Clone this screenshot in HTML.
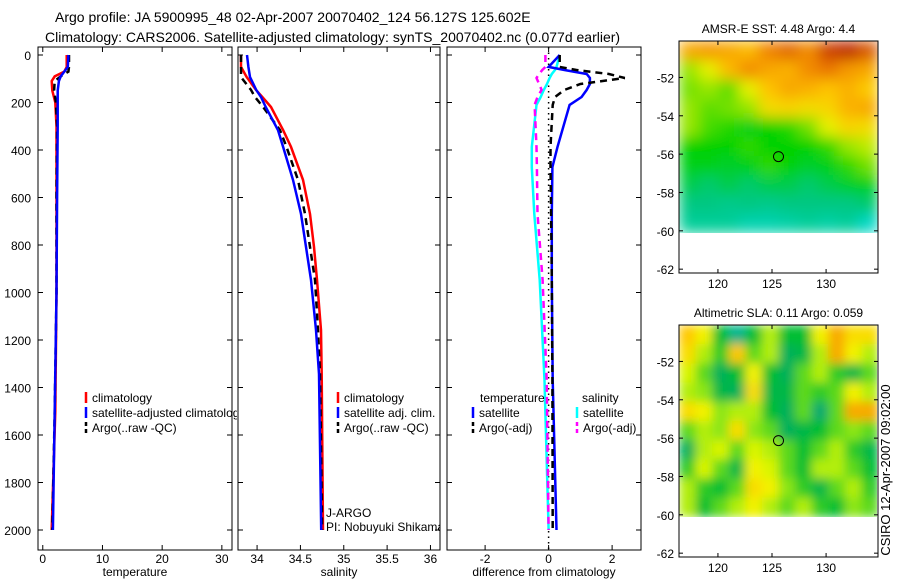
<!DOCTYPE html>
<html><head><meta charset="utf-8"><style>
body{margin:0;background:#fff}
svg{display:block;font-family:"Liberation Sans",sans-serif}
</style></head><body>
<svg id="c" width="900" height="580" viewBox="0 0 900 580">
<defs>
<filter id="bl" x="0" y="0" width="1" height="1"><feGaussianBlur stdDeviation="7" edgeMode="duplicate"/></filter>
<filter id="bl2" x="0" y="0" width="1" height="1"><feGaussianBlur stdDeviation="5" edgeMode="duplicate"/></filter>
<clipPath id="cp1"><rect x="0" y="0" width="237" height="580"/></clipPath>
<clipPath id="cp2"><rect x="238" y="0" width="202" height="580"/></clipPath>
<clipPath id="cm1"><rect x="679" y="41" width="199" height="192"/></clipPath>
<clipPath id="cm2"><rect x="679" y="325" width="198" height="192"/></clipPath>
</defs>
<text x="55" y="22" font-size="14">Argo profile: JA 5900995_48 02-Apr-2007 20070402_124 56.127S 125.602E</text>
<text x="45" y="42" font-size="14">Climatology: CARS2006. Satellite-adjusted climatology: synTS_20070402.nc (0.077d earlier)</text>
<g id="g"></g>
<text transform="translate(890,470) rotate(-90)" font-size="13" text-anchor="middle">CSIRO 12-Apr-2007 09:02:00</text>
</svg>
<script>
// Profile data (depth in m)
const tDepth=[0,50,70,90,110,150,200,300,600,1000,1500,2000];
const tClim=[4.0,4.0,3.6,2.0,1.5,1.6,2.1,2.3,2.3,2.3,2.1,1.5];
const tSat=[4.3,4.2,3.6,3.0,2.7,2.5,2.5,2.5,2.4,2.3,2.0,1.7];
const tArgo=[4.4,4.4,4.3,3.0,2.0,1.9,2.2,2.4,2.3,2.3,2.0,1.6];
const sDepth=[0,50,93,147,177,219,316,387,526,669,808,947,1158,1343,2000];
const sClim=[33.815,33.815,33.88,33.988,34.06,34.161,34.3,34.391,34.53,34.61,34.657,34.691,34.737,34.745,34.76];
const sSat=[33.884,33.9,33.918,33.99,34.045,34.1,34.241,34.3,34.414,34.507,34.564,34.622,34.68,34.714,34.74];
const sArgo=[33.815,33.815,33.815,33.93,33.976,34.07,34.264,34.34,34.472,34.553,34.61,34.668,34.703,34.726,34.75];
const dDepth=[0,50,63,80,97,122,147,177,210,387,472,669,947,1368,2000];
const dTempSat=[0.35,0.0,0.5,1.2,1.3,1.3,1.2,1.04,0.66,0.28,0.12,0.1,0.1,0.13,0.25];
const dTempArgo=[0.35,0.35,0.88,1.9,2.4,1.0,0.5,0.2,0.13,0.06,0.06,0.08,0.1,0.12,0.13];
const dSalSat=[0.35,0.25,0.2,0.1,0.03,-0.05,-0.15,-0.25,-0.38,-0.53,-0.53,-0.45,-0.28,-0.13,0.0];
const dSalArgo=[-0.1,-0.1,-0.2,-0.3,-0.38,-0.3,-0.22,-0.35,-0.44,-0.38,-0.37,-0.35,-0.19,-0.06,0.0];
const depthTicks=[0,200,400,600,800,1000,1200,1400,1600,1800,2000];
const tTicks=[0,10,20,30];
const sTicks=[34,34.5,35,35.5,36];
const sTickLabels=["34","34.5","35","35.5","36"];
const dTicks=[-2,0,2];
// Satellite maps
const lonTicks=[120,125,130];
const latTicks=[-52,-54,-56,-58,-60,-62];
const sstGrid=[
[.72,.75,.72,.68,.8,.85,.78,.92,.97,.88],
[.45,.55,.68,.78,.72,.7,.78,.82,.75,.72],
[.42,.45,.4,.55,.66,.72,.7,.66,.7,.64],
[.45,.4,.42,.45,.6,.62,.6,.62,.7,.72],
[.45,.38,.35,.3,.32,.35,.42,.55,.62,.6],
[.32,.32,.32,.36,.32,.32,.32,.36,.45,.5],
[.3,.3,.28,.3,.36,.32,.28,.3,.36,.42],
[.25,.22,.25,.22,.25,.25,.22,.25,.28,.3],
[.2,.2,.18,.2,.18,.2,.2,.2,.2,.22],
[.15,.15,.15,.1,.1,.12,.15,.12,.15,.05]];
const slaGrid=[
[.8,.7,.4,.2,.4,.6,.4,.4,.7,.85,.75,.75],
[.75,.6,.45,.8,.5,.6,.3,.35,.6,.85,.7,.6],
[.65,.5,.3,.4,.7,.4,.3,.5,.6,.45,.35,.5],
[.6,.55,.35,.3,.75,.35,.35,.5,.45,.5,.7,.6],
[.75,.7,.55,.6,.6,.4,.3,.5,.25,.5,.85,.85],
[.5,.6,.55,.75,.55,.5,.3,.35,.4,.5,.55,.5],
[.3,.6,.65,.5,.65,.6,.5,.4,.5,.6,.45,.35],
[.45,.65,.5,.35,.7,.65,.5,.4,.6,.6,.5,.4],
[.6,.45,.4,.5,.75,.7,.55,.45,.35,.5,.6,.45],
[.6,.4,.5,.6,.7,.6,.5,.6,.45,.4,.55,.5]];
const floatLon=125.6, floatLat=-56.13;

const NS="http://www.w3.org/2000/svg";
const G=document.getElementById('g');
function mk(tag,at,par){const e=document.createElementNS(NS,tag);for(const k in at)e.setAttribute(k,at[k]);(par||G).appendChild(e);return e;}
const yTop=47,yBot=550;
const dy=d=>55+d*0.2375;
function panel(name,x0,x1,vmin,vmax,ticks,labels,xlabel,showY){
  const sx=v=>x0+(v-vmin)/(vmax-vmin)*(x1-x0);
  const f=mk('rect',{x:x0,y:yTop,width:x1-x0,height:yBot-yTop,fill:'none',stroke:'#000','stroke-width':1});
  
  
  depthTicks.forEach(d=>{
    mk('line',{x1:x0,x2:x0+5,y1:dy(d),y2:dy(d),stroke:'#000'});
    mk('line',{x1:x1,x2:x1-5,y1:dy(d),y2:dy(d),stroke:'#000'});
    if(showY){const t=mk('text',{x:x0-7,y:dy(d)+5,'font-size':12,'text-anchor':'end'});t.textContent=d;
      
      }
  });
  ticks.forEach((v,i)=>{
    mk('line',{x1:sx(v),x2:sx(v),y1:yTop,y2:yTop+5,stroke:'#000'});
    mk('line',{x1:sx(v),x2:sx(v),y1:yBot,y2:yBot-5,stroke:'#000'});
    const t=mk('text',{x:sx(v),y:563,'font-size':12,'text-anchor':'middle'});t.textContent=labels[i];
    
    
  });
  const xl=mk('text',{x:(x0+x1)/2,y:576,'font-size':12,'text-anchor':'middle'});xl.textContent=xlabel;
  
  
  return sx;
}
function line(sx,depths,vals,color,dash,name){
  const p=mk('polyline',{points:depths.map((d,i)=>sx(vals[i]).toFixed(1)+','+dy(d).toFixed(1)).join(' '),fill:'none',stroke:color,'stroke-width':2.5,'stroke-dasharray':dash||'none'});
  
  
}
function leg(x,y,color,dash,text,clip){
  mk('line',{x1:x,x2:x,y1:y-10,y2:y+1,stroke:color,'stroke-width':2.5,'stroke-dasharray':dash||'none'});
  const t=mk('text',{x:x+6,y:y,'font-size':12});t.textContent=text;
  if(clip)t.setAttribute('clip-path',clip);
  
  
}
// Panel 1
const sx1=panel('temperature-panel',38,232,-0.8,31.7,tTicks,tTicks.map(String),'temperature',true);
line(sx1,tDepth,tClim,'#f00','', 'temp-climatology-line');
line(sx1,tDepth,tArgo,'#000','7,5','temp-argo-line');
line(sx1,tDepth,tSat,'#00f','', 'temp-satellite-line');
leg(86,402,'#f00','','climatology');leg(86,417,'#00f','','satellite-adjusted climatology','url(#cp1)');leg(86,432,'#000','4,3','Argo(..raw -QC)');
// Panel 2
const sx2=panel('salinity-panel',238,440,33.78,36.11,sTicks,sTickLabels,'salinity',false);
line(sx2,sDepth,sClim,'#f00','', 'sal-climatology-line');
line(sx2,sDepth,sArgo,'#000','7,5','sal-argo-line');
line(sx2,sDepth,sSat,'#00f','', 'sal-satellite-line');
leg(338,402,'#f00','','climatology');leg(338,417,'#00f','','satellite adj. clim.');leg(338,432,'#000','4,3','Argo(..raw -QC)');
let t=mk('text',{x:326,y:517,'font-size':12});t.textContent='J-ARGO';


t=mk('text',{x:326,y:531,'font-size':12,'clip-path':'url(#cp2)'});t.textContent='PI: Nobuyuki Shikama';


// Panel 3
const sx3=panel('difference-panel',447,641,-3.2,2.91,dTicks,dTicks.map(String),'difference from climatology',false);
mk('line',{x1:sx3(0),x2:sx3(0),y1:yTop,y2:yBot,stroke:'#000','stroke-width':1.5,'stroke-dasharray':'1.5,4'});
line(sx3,dDepth,dSalSat,'#0ff','', 'sal-satellite-diff-line');
line(sx3,dDepth,dSalArgo,'#f0f','7,5','sal-argo-diff-line');
line(sx3,dDepth,dTempSat,'#00f','', 'temp-satellite-diff-line');
line(sx3,dDepth,dTempArgo,'#000','7,5','temp-argo-diff-line');
t=mk('text',{x:480,y:402,'font-size':12});t.textContent='temperature';


t=mk('text',{x:582,y:402,'font-size':12});t.textContent='salinity';


leg(473,417,'#00f','','satellite');leg(473,432,'#000','4,3','Argo(-adj)');
leg(577,417,'#0ff','','satellite');leg(577,432,'#f0f','4,3','Argo(-adj)');
// Maps
function lerp(a,b,t){return a.map((v,i)=>Math.round(v+(b[i]-v)*t));}
function cmap(stops,v){for(let i=1;i<stops.length;i++){if(v<=stops[i][0]){const a=stops[i-1],b=stops[i];return 'rgb('+lerp(a[1],b[1],(v-a[0])/(b[0]-a[0])).join(',')+')';}}return 'rgb('+stops[stops.length-1][1].join(',')+')';}
const sstStops=[[0,[0,220,220]],[0.2,[0,200,130]],[0.32,[0,210,0]],[0.45,[150,230,0]],[0.55,[230,240,0]],[0.65,[255,200,0]],[0.8,[240,130,0]],[1,[180,20,0]]];
const slaStops=[[0,[0,220,255]],[0.25,[0,170,110]],[0.4,[0,190,50]],[0.55,[140,230,20]],[0.68,[240,250,0]],[0.8,[255,200,0]],[0.9,[240,140,0]],[1,[220,90,0]]];
function map(name,top,bottom,grid,stops,clip,title,filt){
  const x0=679,x1=878,lonMin=116.4,lonMax=134.8,latTop=-50.1,latBot=-62.2;
  const sx=v=>x0+(v-lonMin)/(lonMax-lonMin)*(x1-x0);
  const sy=v=>top+(latTop-v)/(latTop-latBot)*(bottom-top);
  const rows=grid.length,cols=grid[0].length,latEnd=-60.1;
  const g=mk('g',{'clip-path':clip});
  const gi=mk('g',{filter:filt},g);
  grid.forEach((r,i)=>r.forEach((v,j)=>{
    const la0=latTop+(latEnd-latTop)*i/rows,la1=latTop+(latEnd-latTop)*(i+1)/rows;
    const lo0=lonMin+(lonMax-lonMin)*j/cols,lo1=lonMin+(lonMax-lonMin)*(j+1)/cols;
    const c=mk('rect',{x:sx(lo0),y:sy(la0),width:sx(lo1)-sx(lo0)+0.5,height:sy(la1)-sy(la0)+0.5,fill:cmap(stops,v)},gi);
    
    
  }));
  const fr=mk('rect',{x:x0,y:top,width:x1-x0,height:bottom-top,fill:'none',stroke:'#000'});
  
  
  latTicks.forEach(v=>{mk('line',{x1:x0,x2:x0+4,y1:sy(v),y2:sy(v),stroke:'#000'});mk('line',{x1:x1,x2:x1-4,y1:sy(v),y2:sy(v),stroke:'#000'});
    const t=mk('text',{x:x0-5,y:sy(v)+5,'font-size':12,'text-anchor':'end'});t.textContent=v;
    
    });
  lonTicks.forEach(v=>{mk('line',{x1:sx(v),x2:sx(v),y1:top,y2:top+4,stroke:'#000'});mk('line',{x1:sx(v),x2:sx(v),y1:bottom,y2:bottom-4,stroke:'#000'});
    const t=mk('text',{x:sx(v),y:bottom+15,'font-size':12,'text-anchor':'middle'});t.textContent=v;
    
    });
  const m=mk('circle',{cx:sx(floatLon),cy:sy(floatLat),r:5,fill:'none',stroke:'#000'});
  
  
  const tt=mk('text',{x:(x0+x1)/2,y:top-8,'font-size':12,'text-anchor':'middle'});tt.textContent=title;
  
  
}
map('sst-map',41,273,sstGrid,sstStops,'url(#cm1)','AMSR-E SST: 4.48 Argo: 4.4','url(#bl)');
map('sla-map',325,557,slaGrid,slaStops,'url(#cm2)','Altimetric SLA: 0.11 Argo: 0.059','url(#bl2)');
</script>
</body></html>
